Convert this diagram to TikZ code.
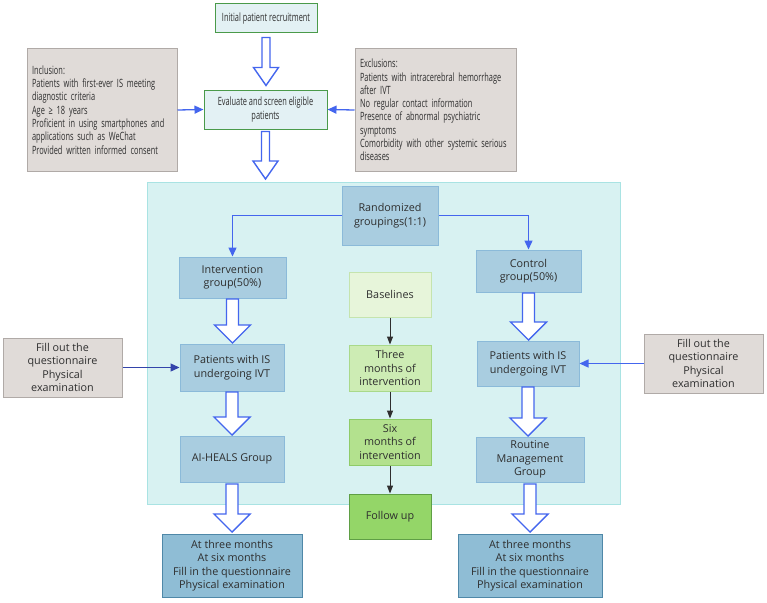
\documentclass[tikz,border=0pt]{standalone}
\usepackage{fontspec}
\setmainfont{Open Sans}
\newfontfamily\topfont[FakeStretch=0.65]{Open Sans}
\usetikzlibrary{arrows.meta,calc}
\definecolor{txt}{HTML}{2E2E2E}
\definecolor{arrblue}{HTML}{4466EE}
\definecolor{darkblue}{HTML}{3344AA}
\definecolor{topfill}{HTML}{E3F1F4}
\definecolor{topdraw}{HTML}{4A9A4A}
\definecolor{greyfill}{HTML}{E0DBD8}
\definecolor{greydraw}{HTML}{B0AAA7}
\definecolor{bgfill}{HTML}{D8F2F2}
\definecolor{bgdraw}{HTML}{A9E3E3}
\definecolor{midfill}{HTML}{A9CDE0}
\definecolor{middraw}{HTML}{8BBAD9}
\definecolor{botfill}{HTML}{8FBDD5}
\definecolor{botdraw}{HTML}{4F88A8}
\definecolor{gAf}{HTML}{E7F5DA}\definecolor{gAd}{HTML}{C5E4AE}
\definecolor{gBf}{HTML}{CDECB4}\definecolor{gBd}{HTML}{A9D98A}
\definecolor{gCf}{HTML}{B3E18E}\definecolor{gCd}{HTML}{8FCB68}
\definecolor{gDf}{HTML}{94D668}\definecolor{gDd}{HTML}{5F9F45}
\tikzset{
  basebox/.style={draw, line width=1pt, align=center, text=txt, font=\fontsize{10.8}{13.4}\selectfont, inner sep=2pt},
  topbox/.style={basebox, fill=topfill, draw=topdraw, font=\topfont\fontsize{11.4}{13.3}\selectfont},
  greybox/.style={basebox, fill=greyfill, draw=greydraw},
  greytop/.style={greybox, font=\topfont\fontsize{11.4}{13.3}\selectfont, align=left, text width=#1},
  midbox/.style={basebox, fill=midfill, draw=middraw},
  botbox/.style={basebox, fill=botfill, draw=botdraw},
  gA/.style={basebox, fill=gAf, draw=gAd},
  gB/.style={basebox, fill=gBf, draw=gBd},
  gC/.style={basebox, fill=gCf, draw=gCd},
  gD/.style={basebox, fill=gDf, draw=gDd},
  hollow/.style={draw=arrblue, line width=1.4pt, fill=white, line join=miter},
  bluearr/.style={draw=arrblue, line width=1.3pt, -{Triangle[length=9pt,width=8pt]}},
  darkarr/.style={draw=darkblue, line width=1.3pt, -{Triangle[length=9pt,width=8pt]}},
  blackarr/.style={draw=txt, line width=1pt, -{Triangle[length=8pt,width=6pt]}},
  sz/.style 2 args={minimum width=#1pt, minimum height=#2pt},
}
\newcommand\harrow[6]{% from, to, shaft half, head half, head length, gap
  \draw[hollow] let \p1=(#1.south), \p2=(#2.north) in
    (\x1-#3pt,\y1-#6pt) -- (\x1-#3pt,\y2+#5pt+#6pt) -- (\x1-#4pt,\y2+#5pt+#6pt) -- (\x1,\y2+#6pt)
    -- (\x1+#4pt,\y2+#5pt+#6pt) -- (\x1+#3pt,\y2+#5pt+#6pt) -- (\x1+#3pt,\y1-#6pt) -- cycle;
}
\begin{document}
\begin{tikzpicture}[x=1pt,y=-1pt]
\useasboundingbox (0,0) rectangle (767,602);
% background panel
\node[draw=bgdraw, fill=bgfill, line width=1pt, minimum width=473pt, minimum height=322pt, inner sep=0pt] (panel) at (383.5,343) {};
% top
\node[topbox, sz={102}{29}] (init) at (266,18.5) {Initial patient recruitment};
\node[topbox, sz={123}{39}] (eval) at (265.5,109.5) {Evaluate and screen eligible\\patients};
\node[greytop=140pt, sz={150}{122}] (incl) at (102,110) {Inclusion:\\Patients with first-ever IS meeting\\diagnostic criteria\\Age ≥ 18 years\\Proficient in using smartphones and\\applications such as WeChat\\Provided written informed consent};
\node[greytop=151pt, sz={161}{122}] (excl) at (435.5,110) {Exclusions:\\Patients with intracerebral hemorrhage\\after IVT\\No regular contact information\\Presence of abnormal psychiatric\\symptoms\\Comorbidity with other systemic serious\\diseases};
\coordinate (panelTop) at (265.5,179);
% middle
\node[midbox, sz={96}{59}] (rand) at (390,215.5) {Randomized\\groupings(1:1)};
\node[midbox, sz={107}{41}] (intv) at (232.5,277.5) {Intervention\\group(50\%)};
\node[midbox, sz={105}{42}] (ctrl) at (528.5,271) {Control\\group(50\%)};
\node[gA, sz={82}{45}] (basel) at (390,294.5) {Baselines};
\node[gB, sz={82}{46}] (three) at (390,368) {Three\\months of\\intervention};
\node[gC, sz={82}{46}] (six) at (390,442) {Six\\months of\\intervention};
\node[gD, sz={82}{45}] (follow) at (390,516.5) {Follow up};
\node[midbox, sz={104}{47}] (pL) at (232,367.5) {Patients with IS\\undergoing IVT};
\node[midbox, sz={104}{46}] (ai) at (232,459) {AI-HEALS Group};
\node[midbox, sz={102}{45}] (pR) at (528,363.5) {Patients with IS\\undergoing IVT};
\node[midbox, sz={108}{45}] (rout) at (530,459.5) {Routine\\Management\\Group};
\node[greybox, sz={119}{59}] (fillL) at (62.5,367.5) {Fill out the\\questionnaire\\Physical\\examination};
\node[greybox, sz={119}{59}] (fillR) at (703.5,363.5) {Fill out the\\questionnaire\\Physical\\examination};
\node[botbox, sz={140}{63}] (botL) at (232,565.5) {At three months\\At six months\\Fill in the questionnaire\\Physical examination};
\node[botbox, sz={144}{63}] (botR) at (530,565.5) {At three months\\At six months\\Fill in the questionnaire\\Physical examination};
% connectors
\draw[bluearr] (incl.east) -- (eval.west);
\draw[bluearr] (excl.west) -- (eval.east);
\draw[bluearr] (rand.west) -| (intv.north);
\draw[bluearr] (rand.east) -| (ctrl.north);
\draw[darkarr] (fillL.east) -- (pL.west);
\draw[bluearr] (fillR.west) -- (pR.east);
\draw[blackarr] (basel) -- (three);
\draw[blackarr] (three) -- (six);
\draw[blackarr] (six) -- (follow);
% hollow arrows
\harrow{init}{eval}{4}{12.5}{18}{4}
\draw[hollow] let \p1=(eval.south), \p2=(panelTop) in
  (\x1-4pt,\y1-2pt) -- (\x1-4pt,\y2+18pt) -- (\x1-12.5pt,\y2+18pt) -- (\x1,\y2)
  -- (\x1+12.5pt,\y2+18pt) -- (\x1+4pt,\y2+18pt) -- (\x1+4pt,\y1-2pt) -- cycle;
\harrow{intv}{pL}{6}{18}{18}{0.5}
\harrow{pL}{ai}{6}{18}{18}{0.5}
\harrow{ai}{botL}{6}{18}{18}{1.5}
\harrow{ctrl}{pR}{6}{18}{18}{0.5}
\harrow{pR}{rout}{6}{18}{18}{0.5}
\harrow{rout}{botR}{6}{18}{18}{1.5}
\end{tikzpicture}
\end{document}
